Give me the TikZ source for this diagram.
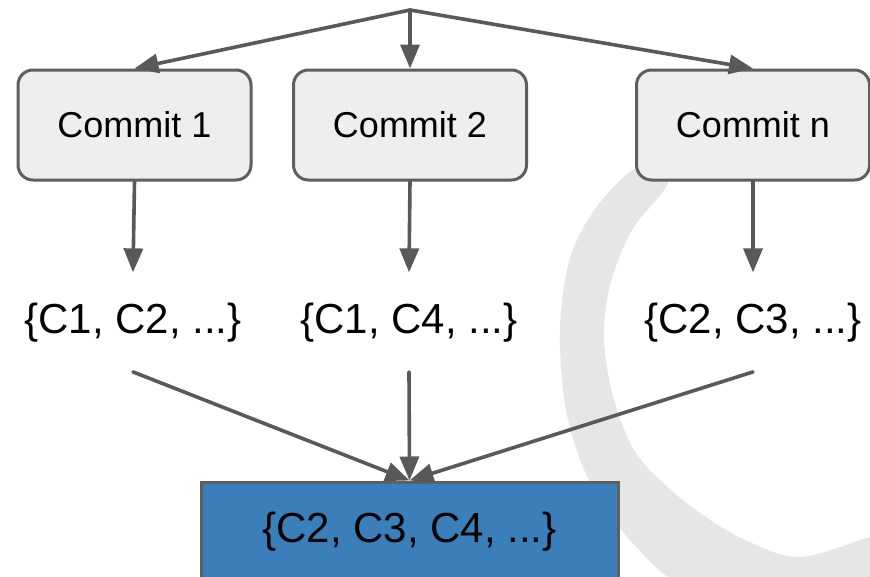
\documentclass[tikz,border=0pt]{standalone}
\usepackage{fontspec}
\setmainfont{Liberation Sans}
\usetikzlibrary{arrows.meta}
\definecolor{wire}{HTML}{595959}
\definecolor{edge}{HTML}{5F5F5F}
\definecolor{boxfill}{HTML}{EEEEEE}
\definecolor{setblue}{HTML}{3A7EBA}
\definecolor{brush}{HTML}{E6E6E6}
\tikzset{
  commit/.style={draw=edge, fill=boxfill, line width=3pt, rounded corners=15pt,
    minimum width=233pt, minimum height=110pt, inner sep=0pt,
    font=\fontsize{36}{40}\selectfont},
  setlabel/.style={inner xsep=2pt, inner ysep=30pt, anchor=base,
    font=\fontsize{42}{46}\selectfont},
  result/.style={draw=edge, fill=setblue, line width=3pt,
    minimum width=417pt, minimum height=100pt, inner sep=0pt,
    font=\fontsize{42}{46}\selectfont},
  wire/.style={draw=wire, line width=3.6pt, line cap=round,
    -{Triangle[length=24pt,width=19pt]}},
}
\begin{document}
\begin{tikzpicture}[x=1pt,y=-1pt]
\clip (0,0) rectangle (870,576);
\fill[white] (0,0) rectangle (870,576);
% light brush-stroke ring behind the diagram
\fill[brush] plot[smooth cycle, tension=0.55] coordinates {
  (640,166) (598,205) (570,258) (560,330) (566,410) (588,478) (630,540)
  (690,590) (800,612) (900,600) (905,530) (870,537) (800,557) (745,540)
  (700,513) (662,482) (634,450) (614,400) (604,340) (610,285) (632,230)
  (668,182)};
% commits
\node[commit] (c1) at (134.5,125) {Commit 1};
\node[commit] (c2) at (410,125) {Commit 2};
\node[commit] (c3) at (753,125) {Commit n};
% touched sets
\node[setlabel] (s1) at (133,333) {\{C1, C2, ...\}};
\node[setlabel] (s2) at (409,333) {\{C1, C4, ...\}};
\node[setlabel] (s3) at (753,333) {\{C2, C3, ...\}};
% merged set
\node[result] (r) at (409.5,532) {\{C2, C3, C4, ...\}};
% fan-out from the common origin
\coordinate (top) at (410,10);
\draw[wire] (top) -- (c1.north);
\draw[wire] (top) -- (c2.north);
\draw[wire] (top) -- (c3.north);
% commit to set
\draw[wire] (c1.south) -- (s1.north);
\draw[wire] (c2.south) -- (s2.north);
\draw[wire] (c3.south) -- (s3.north);
% sets into the union
\draw[wire] (s1.south) -- (r.north);
\draw[wire] (s2.south) -- (r.north);
\draw[wire] (s3.south) -- (r.north);
\end{tikzpicture}
\end{document}
